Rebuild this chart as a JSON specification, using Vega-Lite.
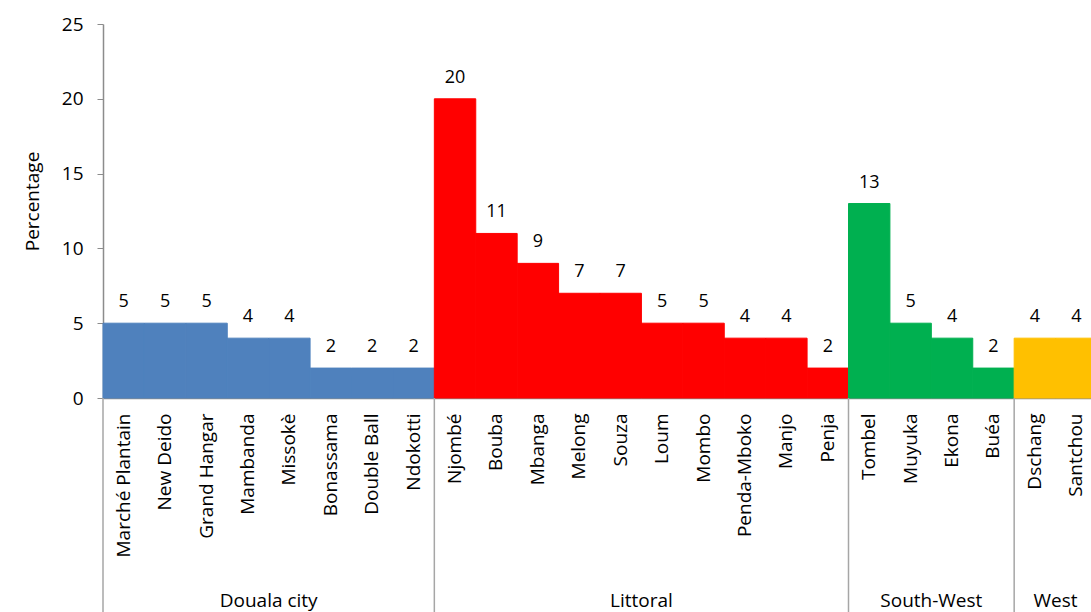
{
  "$schema": "https://vega.github.io/schema/vega-lite/v6.json",
  "autosize": {"type": "none"},
  "padding": {"left": 103, "top": 24, "right": 0, "bottom": 214},
  "width": 988,
  "height": 374,
  "background": "white",
  "config": {
    "font": "Open Sans",
    "view": {"stroke": null},
    "axis": {"labelColor": "#000000", "titleColor": "#000000", "labelFont": "Open Sans", "titleFont": "Open Sans"}
  },
  "data": {
    "values": [
      {"region": "Douala city", "site": "Marché Plantain", "pct": 5},
      {"region": "Douala city", "site": "New Deido", "pct": 5},
      {"region": "Douala city", "site": "Grand Hangar", "pct": 5},
      {"region": "Douala city", "site": "Mambanda", "pct": 4},
      {"region": "Douala city", "site": "Missokè", "pct": 4},
      {"region": "Douala city", "site": "Bonassama", "pct": 2},
      {"region": "Douala city", "site": "Double Ball", "pct": 2},
      {"region": "Douala city", "site": "Ndokotti", "pct": 2},
      {"region": "Littoral", "site": "Njombé", "pct": 20},
      {"region": "Littoral", "site": "Bouba", "pct": 11},
      {"region": "Littoral", "site": "Mbanga", "pct": 9},
      {"region": "Littoral", "site": "Melong", "pct": 7},
      {"region": "Littoral", "site": "Souza", "pct": 7},
      {"region": "Littoral", "site": "Loum", "pct": 5},
      {"region": "Littoral", "site": "Mombo", "pct": 5},
      {"region": "Littoral", "site": "Penda-Mboko", "pct": 4},
      {"region": "Littoral", "site": "Manjo", "pct": 4},
      {"region": "Littoral", "site": "Penja", "pct": 2},
      {"region": "South-West", "site": "Tombel", "pct": 13},
      {"region": "South-West", "site": "Muyuka", "pct": 5},
      {"region": "South-West", "site": "Ekona", "pct": 4},
      {"region": "South-West", "site": "Buéa", "pct": 2},
      {"region": "West", "site": "Dschang", "pct": 4},
      {"region": "West", "site": "Santchou", "pct": 4}
    ]
  },
  "encoding": {
    "x": {
      "field": "site",
      "type": "nominal",
      "sort": null,
      "scale": {"paddingInner": 0, "paddingOuter": 0, "range": [0, 994]},
      "axis": {
        "title": null,
        "labelAngle": -90,
        "labelFontSize": 19,
        "labelPadding": 15,
        "ticks": false,
        "domainColor": "#8C8C8C",
        "domainWidth": 1.5
      }
    }
  },
  "layer": [
    {
      "mark": {"type": "bar", "strokeWidth": 1},
      "encoding": {
        "y": {
          "field": "pct",
          "type": "quantitative",
          "scale": {"domain": [0, 25], "nice": false},
          "axis": {
            "title": "Percentage",
            "titleFontSize": 19,
            "titleFontWeight": "normal",
            "titlePadding": 19,
            "titleY": 177,
            "values": [0, 5, 10, 15, 20, 25],
            "grid": false,
            "labelFontSize": 19,
            "labelPadding": 14,
            "tickSize": 6,
            "tickColor": "#8C8C8C",
            "domainColor": "#8C8C8C",
            "domainWidth": 1.5
          }
        },
        "color": {
          "field": "region",
          "type": "nominal",
          "scale": {
            "domain": ["Douala city", "Littoral", "South-West", "West"],
            "range": ["#4F81BD", "#FF0000", "#00B050", "#FFC000"]
          },
          "legend": null
        },
        "stroke": {
          "field": "region",
          "type": "nominal",
          "scale": {
            "domain": ["Douala city", "Littoral", "South-West", "West"],
            "range": ["#4F81BD", "#FF0000", "#00B050", "#FFC000"]
          },
          "legend": null
        }
      }
    },
    {
      "mark": {"type": "text", "baseline": "alphabetic", "dy": -16, "fontSize": 18, "color": "#000000"},
      "encoding": {
        "y": {"field": "pct", "type": "quantitative", "scale": {"domain": [0, 25], "nice": false}},
        "text": {"field": "pct", "type": "quantitative"}
      }
    },
    {
      "transform": [
        {"window": [{"op": "row_number", "as": "k"}], "groupby": ["region"]},
        {"filter": "datum.k == 1"}
      ],
      "mark": {"type": "rule", "color": "#A6A6A6", "strokeWidth": 1.5, "clip": false},
      "encoding": {
        "x": {"field": "site", "type": "nominal", "sort": null, "bandPosition": 0},
        "y": {"datum": 0, "scale": {"domain": [0, 25], "nice": false}},
        "y2": {"datum": -15}
      }
    },
    {
      "transform": [
        {"window": [{"op": "row_number", "as": "k"}], "groupby": ["region"]},
        {"joinaggregate": [{"op": "count", "as": "n"}], "groupby": ["region"]},
        {"filter": "datum.k == datum.n / 2"}
      ],
      "mark": {"type": "text", "baseline": "middle", "fontSize": 19, "color": "#000000"},
      "encoding": {
        "x": {"field": "site", "type": "nominal", "sort": null, "bandPosition": 1},
        "y": {"datum": -13.6, "scale": {"domain": [0, 25], "nice": false}},
        "text": {"field": "region", "type": "nominal"}
      }
    }
  ]
}
